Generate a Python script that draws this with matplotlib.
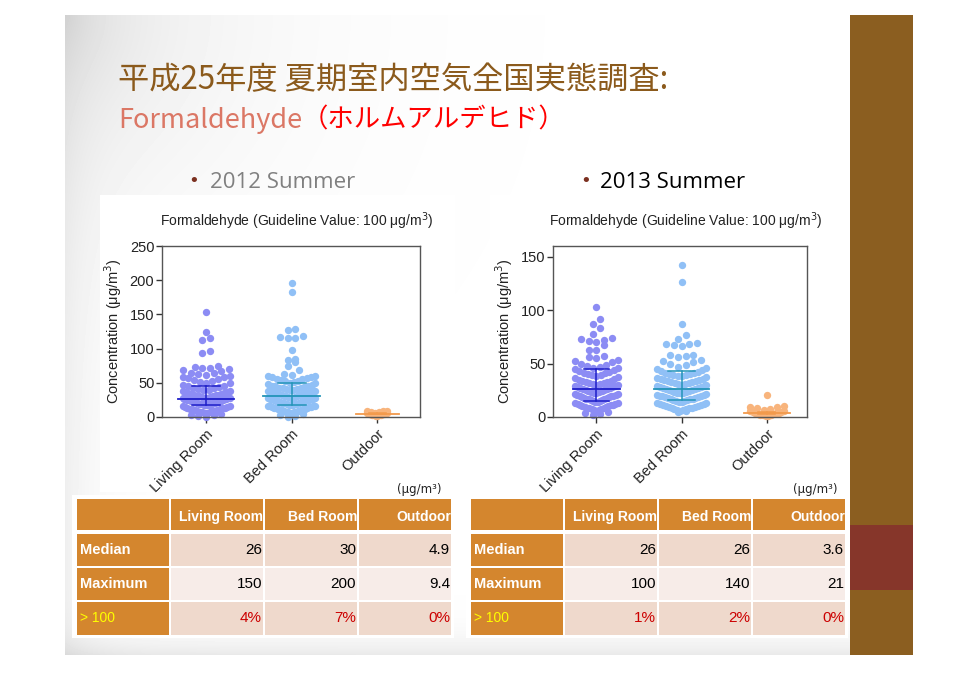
"""Slide: summer indoor-air survey, formaldehyde dot plots for 2012 / 2013 with summary tables."""
import numpy as np
import matplotlib
matplotlib.use("Agg")
import matplotlib.pyplot as plt
from matplotlib.patches import Rectangle

W, H = 978, 673

groups = ["Living Room", "Bed Room", "Outdoor"]

# 2012 summer samples (ug/m3)
living_2012 = [0.5, 1.5, 2.5, 3.5, 5,
               6, 6.5, 7, 7.5, 8, 8.5, 9, 9.5, 10, 10.5, 11, 11.5, 12, 12.5, 13, 13.5, 14, 14.5, 15.5, 16.5,
               17, 17.3, 17.6, 18, 18.3, 18.6, 19, 19.3, 19.6, 20, 20.4, 20.8, 21.2, 21.6, 22,
               22.4, 22.8, 23.2, 23.6, 24, 24.4, 24.8, 25.2, 25.6, 26, 26.4, 26.8, 27.2, 27.5, 27.8,
               28, 28.5, 29, 29.5, 30, 30.5, 31, 31.5, 32, 32.5, 33, 34, 34.5, 35, 36, 37, 37.5, 38.5,
               39, 40, 41, 42, 43, 44, 45, 46, 47.5, 49,
               50, 51, 52.5, 54, 55, 56.5, 58, 59, 60.5,
               62, 63, 64, 65, 67, 68, 70,
               72, 72, 73, 74,
               94, 96, 112, 115, 124, 153]
bed_2012 = [0, 2, 3.5, 5,
            6, 6.4, 6.8, 7.2, 7.6, 8, 8.4, 8.8, 9.2, 9.6, 10, 10.5, 11, 11.5, 12, 12.5,
            13, 13.5, 14, 14.5, 15, 15.5, 16, 16.3, 16.7,
            17, 17.5, 18, 18.5, 19, 19.5, 20, 20.5, 21, 21.5, 22, 22.5,
            23, 23.5, 24, 24.5, 25, 25.5, 26, 26.3, 26.6, 27, 27.3, 27.7,
            28, 28.5, 29, 29.5, 30, 30.5, 31, 31.5, 32, 32.5, 33,
            33.5, 34, 34.5, 35, 35.5, 36, 36.5, 37, 37.5, 38, 38.5,
            39, 40, 40.5, 41, 42, 42.5, 43, 44, 45, 45.5, 46, 47, 48, 49,
            50, 51, 52, 53, 54, 55, 56, 57, 58, 58.5, 59.5, 60.5,
            61, 63, 68,
            75, 80, 83, 85, 98, 116, 116, 117, 118, 127, 128, 183, 196]
outdoor_2012 = [1.2, 1.8, 2.3, 2.8, 3.2, 3.6, 4, 4.4, 4.7, 4.9, 5.2, 5.5, 5.8,
                6.2, 6.8, 7.5, 8.2, 8.8, 9.4]
median_2012 = [26, 30, 4.9]
q1_2012 = [17, 17, 4.0]
q3_2012 = [46, 49, 6.0]

# 2013 summer samples (ug/m3)
living_2013 = [2, 3, 4, 5,
               6, 6.4, 6.8, 7.2, 7.6, 8, 8.4, 8.8, 9.2, 9.6, 10, 10.4, 10.8, 11.2, 11.6, 12, 12.5, 13, 13.5,
               14, 14.4, 14.8, 15.2, 15.6, 16, 16.4, 16.8, 17.2, 17.6,
               18, 18.4, 18.8, 19.2, 19.6, 20, 20.4, 20.8, 21.2, 21.6,
               22, 22.5, 23, 23.5, 24, 24.5, 25, 25.5, 26, 26.5, 27, 27.5, 28, 28.5, 29, 29.3, 29.7,
               30, 30.5, 31, 31.5, 32, 32.5, 33, 33.5, 34, 35, 36, 36.5, 37.5,
               38, 39, 39.5, 40, 41, 41.5, 42, 43, 44, 44.5, 45.5,
               46, 47, 48, 49, 50, 51, 52, 53,
               55, 56, 57,
               62.5, 63, 67,
               70.5, 71, 72, 73, 74,
               78, 83, 87, 92, 103]
bed_2013 = [5, 5.5,
            6, 6.4, 6.8, 7.2, 7.6, 8, 8.4, 8.8, 9.2, 9.6, 10, 10.5, 11, 11.5, 12, 12.5, 13, 13.5,
            14, 14.4, 14.8, 15.2, 15.6, 16, 16.4, 16.8, 17.2, 17.6,
            18, 18.4, 18.8, 19.2, 19.6, 20, 20.5, 21, 21.5,
            22, 22.4, 22.8, 23.2, 23.6, 24, 24.5, 25, 25.5, 26, 26.5, 27, 27.5, 28, 28.5, 29, 29.3, 29.7,
            30, 30.5, 31, 31.5, 32, 32.5, 33, 33.5, 34, 34.5, 35, 35.5, 36, 36.5, 37.5,
            38, 38.5, 39, 39.5, 40, 40.5, 41, 41.5, 42, 43, 44, 44.5, 45.5,
            47, 49, 50, 51, 52, 53,
            56, 57, 58, 58,
            66, 67, 68, 68.5, 69,
            73, 77, 87, 126, 142]
outdoor_2013 = [1, 1.3, 1.6, 2, 2.3, 2.6, 3, 3.3, 3.6, 4, 4.4, 4.8, 5.2, 5.7,
                6.5, 7.5, 8, 9, 9.5, 10.5,
                21]
median_2013 = [26, 26, 3.6]
q1_2013 = [15, 16, 2.5]
q3_2013 = [45, 43, 5.0]

# summary tables
table_cols = ["Living Room", "Bed Room", "Outdoor"]
table_rows = ["Median", "Maximum", "> 100"]
table_2012 = [["26", "30", "4.9"], ["150", "200", "9.4"], ["4%", "7%", "0%"]]
table_2013 = [["26", "26", "3.6"], ["100", "140", "21"], ["1%", "2%", "0%"]]

dot_colors = ["#8C8CF4", "#90C0F6", "#F8B47C"]
line_colors = ["#1E1EC8", "#2394B8", "#F29A4C"]
ORANGE = "#D4862E"


def dot_layout(values, binw, anchor, maxw, step=0.09):
    """Prism-like scatter: points binned into rows, lowest values centred."""
    v = np.sort(np.asarray(values, float))
    rows = np.floor((v - anchor) / binw)
    xs = np.zeros_like(v)
    for r in np.unique(rows):
        idx = np.where(rows == r)[0]
        n = len(idx)
        sp = step if n < 2 else min(step, maxw / (n - 1))
        offs = (np.arange(n) - (n - 1) / 2) * sp
        xs[idx] = offs[np.argsort(np.abs(offs), kind="stable")]
    return xs, v


def px_axes(fig, x0, y0, x1, y1):
    return fig.add_axes([x0 / W, 1 - y1 / H, (x1 - x0) / W, (y1 - y0) / H])


def dot_panel(ax, data, med, q1, q3, ylim, yticks, xlim, binw, anchor, maxw, medw, capw):
    for i, vals in enumerate(data):
        dx, y = dot_layout(vals, binw, anchor, maxw[i])
        ax.scatter(i + dx, y, s=28, color=dot_colors[i], linewidths=0,
                   clip_on=False, zorder=2)
        c = line_colors[i]
        ax.plot([i - medw[i], i + medw[i]], [med[i], med[i]], color=c, lw=1.3, zorder=3, clip_on=False)
        ax.plot([i, i], [q1[i], q3[i]], color=c, lw=1.1, zorder=3)
        for q in (q1[i], q3[i]):
            ax.plot([i - capw[i], i + capw[i]], [q, q], color=c, lw=1.1, zorder=3)
    ax.set_xlim(*xlim)
    ax.set_ylim(*ylim)
    ax.set_yticks(yticks)
    ax.set_xticks(range(len(groups)))
    ax.set_xticklabels(groups, rotation=45, ha="right", rotation_mode="anchor",
                       fontsize=10.5, family="Liberation Sans")
    for lab in ax.get_yticklabels():
        lab.set_family("Liberation Sans")
    ax.tick_params(axis="y", direction="out", length=4, width=1, labelsize=10.5,
                   pad=1.5, colors="#333333", labelcolor="#222222")
    ax.tick_params(axis="x", direction="out", length=4, width=1, pad=3,
                   colors="#333333", labelcolor="#222222")
    for s in ax.spines.values():
        s.set_color("#555555")
        s.set_linewidth(1.0)
    ax.set_ylabel("Concentration (μg/m$^3$)", fontsize=10.5, family="Liberation Sans",
                  color="#222222", labelpad=4)


def draw_table(ax, x0, cells):
    colw, gap = 92, 2
    xs = [x0 + k * (colw + gap) for k in range(4)]
    row_y = [(499, 530), (534, 566), (568, 600), (602, 635)]
    fills = ["#EFD9CC", "#F7ECE8", "#EFD9CC"]
    ax.add_patch(Rectangle((x0 - 5, 495), 4 * colw + 3 * gap + 8, 143,
                           facecolor="white", edgecolor="none", zorder=1))
    for r, (ya, yb) in enumerate(row_y):
        for c, xa in enumerate(xs):
            fc = ORANGE if (r == 0 or c == 0) else fills[r - 1]
            ax.add_patch(Rectangle((xa, ya), colw, yb - ya, facecolor=fc,
                                   edgecolor="none", zorder=2))
    for c, name in enumerate(table_cols):
        ax.text(xs[c + 1] + colw, 517, name, ha="right", va="center", fontsize=10,
                weight="bold", color="white", family="Liberation Sans", zorder=3)
    for r, name in enumerate(table_rows):
        yc = (row_y[r + 1][0] + row_y[r + 1][1]) / 2
        if r < 2:
            ax.text(xs[0] + 3, yc, name, ha="left", va="center", fontsize=10.5,
                    weight="bold", color="white", family="Liberation Sans", zorder=3)
        else:
            ax.text(xs[0] + 3, yc, name, ha="left", va="center", fontsize=10,
                    color="#FFFF00", family="Liberation Sans", zorder=3)
        for c in range(3):
            ax.text(xs[c + 1] + colw - 1, yc, cells[r][c], ha="right", va="center",
                    fontsize=11, color="#CC0000" if r == 2 else "black",
                    family="Liberation Sans", zorder=3)


fig = plt.figure(figsize=(W / 100, H / 100), dpi=100)
fig.patch.set_facecolor("white")

bg = fig.add_axes([0, 0, 1, 1])
bg.set_xlim(0, W)
bg.set_ylim(H, 0)
bg.axis("off")

# slide background with soft grey vignette
yy, xx = np.mgrid[15:655, 65:850]
shade = (0.12 * np.exp(-np.hypot(xx - 65, yy - 15) / 140)
         + 0.09 * np.exp(-(655 - yy) / 18)
         + 0.06 * np.exp(-(xx - 65) / 30))
bg.imshow(1 - shade, cmap="gray", vmin=0, vmax=1, extent=[65, 850, 655, 15],
          aspect="auto", interpolation="bilinear", zorder=0)
bg.add_patch(Rectangle((850, 15), 63, 640, facecolor="#8B5E20", edgecolor="none", zorder=1))
bg.add_patch(Rectangle((850, 525), 63, 65, facecolor="#86362A", edgecolor="none", zorder=1))

# pasted chart pictures are white
bg.add_patch(Rectangle((100, 195), 355, 297, facecolor="white", edgecolor="none", zorder=1))
bg.add_patch(Rectangle((490, 195), 340, 297, facecolor="white", edgecolor="none", zorder=1))

# title
bg.text(118, 80, "平成25年度 夏期室内空気全国実態調査:", fontsize=22.5, color="#8B5A1C",
        family=["Noto Sans CJK JP", "DejaVu Sans"], va="center", ha="left", zorder=3)
t1 = bg.text(118, 120, "Formaldehyde", fontsize=19.5, color="#DB7765",
             family=["Noto Sans CJK JP", "DejaVu Sans"], va="center", ha="left", zorder=3)
bg.annotate("（ホルムアルデヒド）", xy=(1, 0), xycoords=t1, va="bottom", ha="left",
            fontsize=19, color="#FF0000", family=["Noto Sans CJK JP", "DejaVu Sans"], zorder=3)

# bullets
bg.text(188, 181, "•", fontsize=13, color="#7B3020", va="center", ha="left", zorder=3)
bg.text(210, 182, "2012 Summer", fontsize=16, color="#808080", family="Open Sans",
        va="center", ha="left", zorder=3)
bg.text(580, 181, "•", fontsize=13, color="#7B3020", va="center", ha="left", zorder=3)
bg.text(600, 182, "2013 Summer", fontsize=16, color="black", family="Open Sans",
        va="center", ha="left", zorder=3)

chart_title = "Formaldehyde (Guideline Value: 100 μg/m$^3$)"
bg.text(297, 221, chart_title, fontsize=10, ha="center", va="center",
        family="Liberation Sans", color="#222222", zorder=3)
bg.text(686, 221, chart_title, fontsize=10, ha="center", va="center",
        family="Liberation Sans", color="#222222", zorder=3)

bg.text(442, 489, "(μg/m³)", fontsize=8.5, ha="right", va="center", color="#222222", zorder=3)
bg.text(837, 489, "(μg/m³)", fontsize=8.5, ha="right", va="center", color="#222222", zorder=3)

draw_table(bg, 77, table_2012)
draw_table(bg, 471, table_2013)

ax1 = px_axes(fig, 162, 246, 420, 417)
dot_panel(ax1, [living_2012, bed_2012, outdoor_2012], median_2012, q1_2012, q3_2012,
          ylim=(0, 250), yticks=[0, 50, 100, 150, 200, 250], xlim=(-0.515, 2.5),
          binw=11, anchor=6, maxw=[0.55, 0.55, 0.24], medw=[0.33, 0.33, 0.25],
          capw=[0.165, 0.165, 0.1])

ax2 = px_axes(fig, 553, 246, 807, 417)
dot_panel(ax2, [living_2013, bed_2013, outdoor_2013], median_2013, q1_2013, q3_2013,
          ylim=(0, 160), yticks=[0, 50, 100, 150], xlim=(-0.51, 2.47),
          binw=8, anchor=6, maxw=[0.5, 0.58, 0.4], medw=[0.28, 0.32, 0.27],
          capw=[0.15, 0.155, 0.1])

fig.savefig("out.png", dpi=100)
